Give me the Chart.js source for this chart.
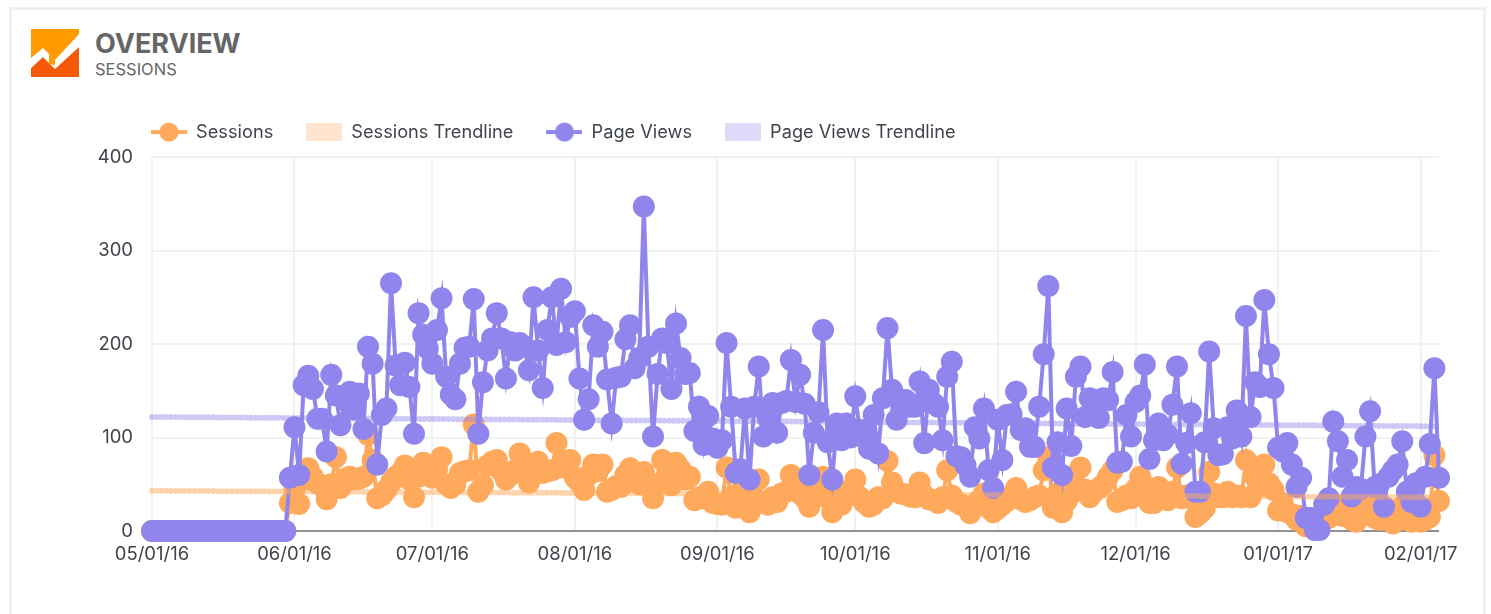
<!DOCTYPE html>
<html>
<head>
<meta charset="utf-8">
<title>Overview - Sessions</title>
<script src="https://cdn.jsdelivr.net/npm/chart.js@4/dist/chart.umd.min.js"></script>
<style>
	html, body { margin: 0; padding: 0; background: #fff; overflow: hidden; }
	body { width: 1491px; height: 614px; position: relative; font-family: Inter, sans-serif; }
	#card { position: absolute; left: 9px; top: 7px; width: 1471px; height: 640px; border: 3px solid #f0f0f0; }
	#logo { position: absolute; left: 31px; top: 29px; }
	#title { position: absolute; left: 95px; top: 28px; font-size: 27px; font-weight: 700; color: #666; line-height: 32px; }
	#subtitle { position: absolute; left: 95px; top: 59px; font-size: 16.5px; color: #666; line-height: 20px; }
	#chart { position: absolute; left: 0; top: 0; }
</style>
</head>
<body>
<div id="card"></div>
<svg id="logo" width="48" height="48" viewBox="0 0 48 48">
	<rect width="48" height="48" fill="#ff9a00"/>
	<polygon points="0,39 12,28 24,40 48,18 48,48 0,48" fill="#f4590a"/>
	<polygon points="0,29 12,19 24,31 48,5 48,18 24,40 12,28 0,39" fill="#fff"/>
	<polygon points="18,25 24,31 24,36 18,35" fill="#ff9a00"/>
</svg>
<div id="title">OVERVIEW</div>
<div id="subtitle">SESSIONS</div>
<canvas id="chart" width="1491" height="614"></canvas>
<script>
// months shown on the x axis, one point per day from 05/01/16
const monthTicks = ['05/01/16', '06/01/16', '07/01/16', '08/01/16', '09/01/16', '10/01/16', '11/01/16', '12/01/16', '01/01/17', '02/01/17']
const dayCount = 281
const yTicks = [0, 100, 200, 300, 400]

const sessions = [
	0, 0, 0, 0, 0, 0, 0, 0, 0, 0, 0, 0, 0, 0, 0, 0, 0, 0, 0, 0, 0, 0, 0, 0, 0, 0, 0, 0, 0, 0,
	30, 44, 29, 55, 67, 58, 51, 48, 34, 50, 79, 46, 56, 58, 55, 56, 58, 103, 76, 35,
	38, 44, 52, 58, 62, 70, 55, 36, 58, 73, 60, 57, 66, 79, 50, 46, 50, 62, 64, 65,
	114, 42, 49, 70, 74, 76, 64, 55, 60, 65, 83, 66, 52, 70, 74, 62, 64, 65, 94, 68,
	74, 76, 57, 52, 44, 60, 71, 64, 71, 42, 44, 48, 47, 60, 67, 55, 50, 63, 48, 35,
	50, 76, 60, 49, 73, 66, 55, 58, 33, 36, 35, 42, 30, 29, 28, 68, 36, 25, 42, 45,
	20, 35, 55, 30, 28, 36, 31, 40, 42, 60, 45, 40, 35, 26, 38, 42, 58, 35, 20, 30,
	28, 40, 45, 55, 36, 30, 26, 28, 36, 35, 75, 52, 42, 40, 39, 37, 36, 52, 38, 34,
	33, 30, 36, 65, 38, 31, 28, 26, 19, 28, 33, 40, 25, 20, 24, 28, 32, 38, 46, 34,
	31, 33, 36, 38, 65, 79, 25, 40, 20, 32, 40, 48, 68, 44, 36, 42, 46, 50, 58, 65,
	31, 33, 38, 35, 45, 58, 48, 30, 30, 47, 38, 33, 42, 68, 35, 38, 35, 15, 19, 24,
	63, 40, 36, 36, 42, 36, 38, 36, 76, 36, 58, 48, 71, 51, 44, 22, 30, 20, 18, 12,
	16, 5, 10, 8, 12, 20, 14, 30, 26, 16, 20, 12, 10, 16, 30, 36, 14, 12, 16, 22,
	8, 18, 26, 12, 10, 14, 10, 12, 15, 81, 32
]
const pageViews = [
	0, 0, 0, 0, 0, 0, 0, 0, 0, 0, 0, 0, 0, 0, 0, 0, 0, 0, 0, 0, 0, 0, 0, 0, 0, 0, 0, 0, 0, 0,
	57, 111, 60, 156, 166, 152, 120, 120, 85, 167, 145, 113, 140, 149, 130, 147, 109, 197, 179, 71,
	124, 131, 265, 177, 156, 180, 154, 104, 233, 210, 195, 179, 215, 249, 165, 146, 141, 179, 196, 197,
	248, 104, 159, 193, 206, 233, 206, 163, 202, 193, 201, 197, 172, 250, 193, 153, 215, 250, 199, 259,
	202, 229, 235, 163, 119, 141, 220, 197, 213, 162, 115, 164, 165, 205, 220, 174, 185, 347, 197, 101,
	168, 206, 201, 152, 222, 185, 168, 169, 107, 133, 92, 123, 99, 89, 97, 201, 133, 62, 66, 131,
	55, 133, 176, 101, 120, 137, 105, 137, 139, 183, 138, 167, 136, 60, 105, 127, 215, 95, 55, 115,
	97, 115, 100, 144, 108, 100, 88, 124, 83, 142, 217, 151, 119, 131, 140, 133, 133, 160, 94, 151,
	137, 133, 97, 165, 181, 80, 79, 70, 58, 111, 99, 131, 65, 46, 119, 76, 124, 125, 149, 108,
	110, 90, 90, 133, 189, 262, 68, 95, 60, 131, 91, 165, 176, 122, 142, 140, 121, 142, 140, 170,
	73, 74, 124, 101, 138, 145, 178, 77, 97, 115, 97, 103, 135, 176, 72, 94, 126, 42, 42, 95,
	192, 110, 81, 82, 111, 99, 129, 101, 230, 122, 159, 154, 247, 189, 153, 89, 85, 94, 71, 47,
	57, 14, 14, 1, 1, 28, 35, 117, 96, 58, 76, 37, 47, 45, 101, 128, 47, 50, 26, 58,
	65, 71, 96, 42, 31, 51, 26, 58, 93, 174, 57
]
// the trendlines are read at their two ends only
const trendDates = ['05/01/16', '02/05/17']
const sessionsTrend = [43, 36]
const pageViewsTrend = [122, 112]

const orange = '#ffa95c'
const purple = '#9085ec'
const orangeLight = '#ffe4ce'
const purpleLight = '#dedafa'

// one label per day, mm/dd/yy
const dates = []
for (let i = 0; i < dayCount; i++) {
	const d = new Date(Date.UTC(2016, 4, 1 + i))
	const mm = String(d.getUTCMonth() + 1).padStart(2, '0')
	const dd = String(d.getUTCDate()).padStart(2, '0')
	dates.push(mm + '/' + dd + '/' + String(d.getUTCFullYear()).slice(2))
}

// legend swatches
const lineSwatch = color => {
	const c = document.createElement('canvas')
	c.width = 36
	c.height = 20
	const ctx = c.getContext('2d')
	ctx.fillStyle = color
	ctx.fillRect(0, 8, 36, 4)
	ctx.beginPath()
	ctx.arc(18, 10, 9.5, 0, Math.PI * 2)
	ctx.fill()
	return c
}
const boxSwatch = color => {
	const c = document.createElement('canvas')
	c.width = 36
	c.height = 18
	const ctx = c.getContext('2d')
	ctx.fillStyle = color
	ctx.fillRect(0, 0, 36, 18)
	return c
}

const trendData = values => values.map((v, i) => ({ x: trendDates[i], y: v }))

const lineSet = (label, values, color, order) => ({
	label: label,
	data: values,
	borderColor: color,
	backgroundColor: color,
	pointBackgroundColor: color,
	pointBorderWidth: 0,
	pointRadius: 11,
	pointHoverRadius: 11,
	borderWidth: 4,
	tension: 0,
	clip: false,
	order: order
})
const trendSet = (label, values, color, order) => ({
	label: label,
	data: trendData(values),
	borderColor: color,
	backgroundColor: color,
	borderWidth: 6,
	borderCapStyle: 'round',
	borderDash: [0.1, 4.6],
	pointRadius: 0,
	spanGaps: true,
	tension: 0,
	clip: false,
	order: order
})

// the legend sits left of the plot and takes less height than its item spacing asks for
const legendPlace = {
	id: 'legendPlace',
	beforeInit(chart) {
		const fit = chart.legend.fit
		chart.legend.fit = function () {
			fit.call(this)
			this.height = 67
		}
	},
	afterLayout(chart) {
		chart.legend.left = 118
	}
}

const swatches = [lineSwatch(orange), boxSwatch(orangeLight), lineSwatch(purple), boxSwatch(purpleLight)]
const legendFont = { family: 'Inter, sans-serif', size: 18.2 }
const tickFont = { family: 'Inter, sans-serif', size: 18.5 }

new Chart(document.getElementById('chart'), {
	type: 'line',
	data: {
		labels: dates,
		datasets: [
			lineSet('Sessions', sessions, orange, 4),
			trendSet('Sessions Trendline', sessionsTrend, 'rgba(255, 169, 92, 0.5)', 1),
			lineSet('Page Views', pageViews, purple, 3),
			trendSet('Page Views Trendline', pageViewsTrend, 'rgba(144, 133, 236, 0.45)', 2)
		]
	},
	options: {
		responsive: false,
		animation: false,
		layout: { padding: { left: 0, right: 52, top: 90, bottom: 0 } },
		plugins: {
			tooltip: { enabled: false },
			legend: {
				position: 'top',
				align: 'start',
				labels: {
					usePointStyle: true,
					pointStyleWidth: 36,
					padding: 33,
					color: '#3f444b',
					font: legendFont,
					generateLabels: chart => chart.data.datasets.map((ds, i) => ({
						text: ds.label,
						pointStyle: swatches[i],
						fontColor: '#3f444b',
						lineWidth: 0,
						datasetIndex: i
					}))
				}
			}
		},
		scales: {
			x: {
				grid: { color: '#f1f1f1', lineWidth: 2, drawTicks: false },
				border: { display: false },
				afterBuildTicks: scale => {
					scale.ticks = scale.ticks.filter(t => monthTicks.includes(dates[t.value]))
				},
				afterFit: scale => { scale.height = 83 },
				ticks: {
					autoSkip: false,
					maxRotation: 0,
					padding: 12,
					color: '#3f444b',
					font: tickFont
				}
			},
			y: {
				min: yTicks[0],
				max: yTicks[yTicks.length - 1],
				grid: {
					color: ctx => ctx.tick.value === 0 ? '#8f9194' : '#f1f1f1',
					lineWidth: 2,
					drawTicks: false
				},
				border: { display: false },
				afterFit: scale => { scale.width = 152 },
				ticks: {
					stepSize: 100,
					padding: 19,
					color: '#3f444b',
					font: tickFont
				}
			}
		}
	},
	plugins: [legendPlace]
})
</script>
</body>
</html>
